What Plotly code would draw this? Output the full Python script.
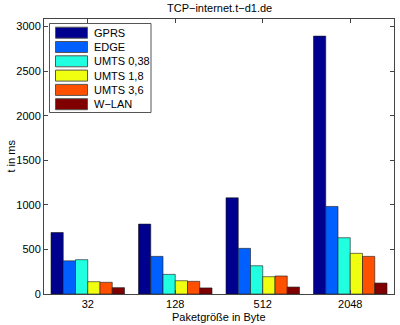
import plotly.graph_objects as go

categories = ["32", "128", "512", "2048"]
series_names = ["GPRS", "EDGE", "UMTS 0,38", "UMTS 1,8", "UMTS 3,6", "W\u2212LAN"]
gprs = [690, 784, 1079, 2893]
edge = [372, 422, 512, 982]
umts038 = [385, 220, 317, 631]
umts18 = [138, 149, 194, 456]
umts36 = [131, 142, 202, 422]
wlan = [71, 68, 78, 123]
series_values = [gprs, edge, umts038, umts18, umts36, wlan]
colors = ["#00008f", "#0060ff", "#20ffdf", "#f0ff10", "#ff5000", "#800000"]
y_ticks = [0, 500, 1000, 1500, 2000, 2500, 3000]

FONT = "Liberation Sans, Arial, Helvetica, sans-serif"
W, H = 400, 325
L, R, T, B = 44, 6, 19, 31
PW, PH = W - L - R, H - T - B

def px(x):
    return (x - L) / PW

def py(y):
    return (H - B - y) / PH

fig = go.Figure()
for name, vals, c in zip(series_names, series_values, colors):
    fig.add_trace(go.Bar(x=categories, y=vals, name=name, marker=dict(color=c, line=dict(color="#1a1a1a", width=0.6)),
                         showlegend=False))

shapes = []
annotations = []
# legend box
shapes.append(dict(type="rect", xref="paper", yref="paper", x0=px(49.5), x1=px(151), y0=py(112.5), y1=py(23.5),
                   line=dict(color="#555555", width=1), fillcolor="white", layer="above"))
for i, (name, c) in enumerate(zip(series_names, colors)):
    cy = 32.7 + 14.3 * i
    shapes.append(dict(type="rect", xref="paper", yref="paper", x0=px(55.5), x1=px(87.5), y0=py(cy + 5.5), y1=py(cy - 5.5),
                       line=dict(color="#555555", width=1), fillcolor=c, layer="above"))
    annotations.append(dict(text=name, xref="paper", yref="paper", x=px(92), y=py(cy), xanchor="left", yanchor="middle",
                            showarrow=False, font=dict(family=FONT, size=11, color="black")))

annotations.append(dict(text="TCP\u2212internet.t\u2212d1.de", xref="paper", yref="paper", x=0.5, y=1, yshift=11,
                        xanchor="center", yanchor="middle", showarrow=False, font=dict(family=FONT, size=11, color="black")))
annotations.append(dict(text="Paketgr\u00f6\u00dfe in Byte", xref="paper", yref="paper", x=0.5, y=0, yshift=-23,
                        xanchor="center", yanchor="middle", showarrow=False, font=dict(family=FONT, size=11, color="black")))
annotations.append(dict(text="t in ms", xref="paper", yref="paper", x=0, y=0.5, xshift=-34, textangle=-90,
                        xanchor="center", yanchor="middle", showarrow=False, font=dict(family=FONT, size=11, color="black")))

axis_common = dict(showline=True, linecolor="#444444", linewidth=1, mirror="ticks", ticks="inside", ticklen=4,
                   tickcolor="#444444", showgrid=False, zeroline=False,
                   tickfont=dict(family=FONT, size=11, color="black"))

fig.update_layout(
    width=W, height=H,
    margin=dict(l=L, r=R, t=T, b=B),
    paper_bgcolor="white", plot_bgcolor="white",
    barmode="group", bargap=0.16, bargroupgap=0,
    xaxis=dict(range=[-0.5, 3.5], **axis_common),
    yaxis=dict(range=[0, 3085], tickvals=y_ticks, **axis_common),
    shapes=shapes, annotations=annotations,
)
fig.write_html("out.html")
